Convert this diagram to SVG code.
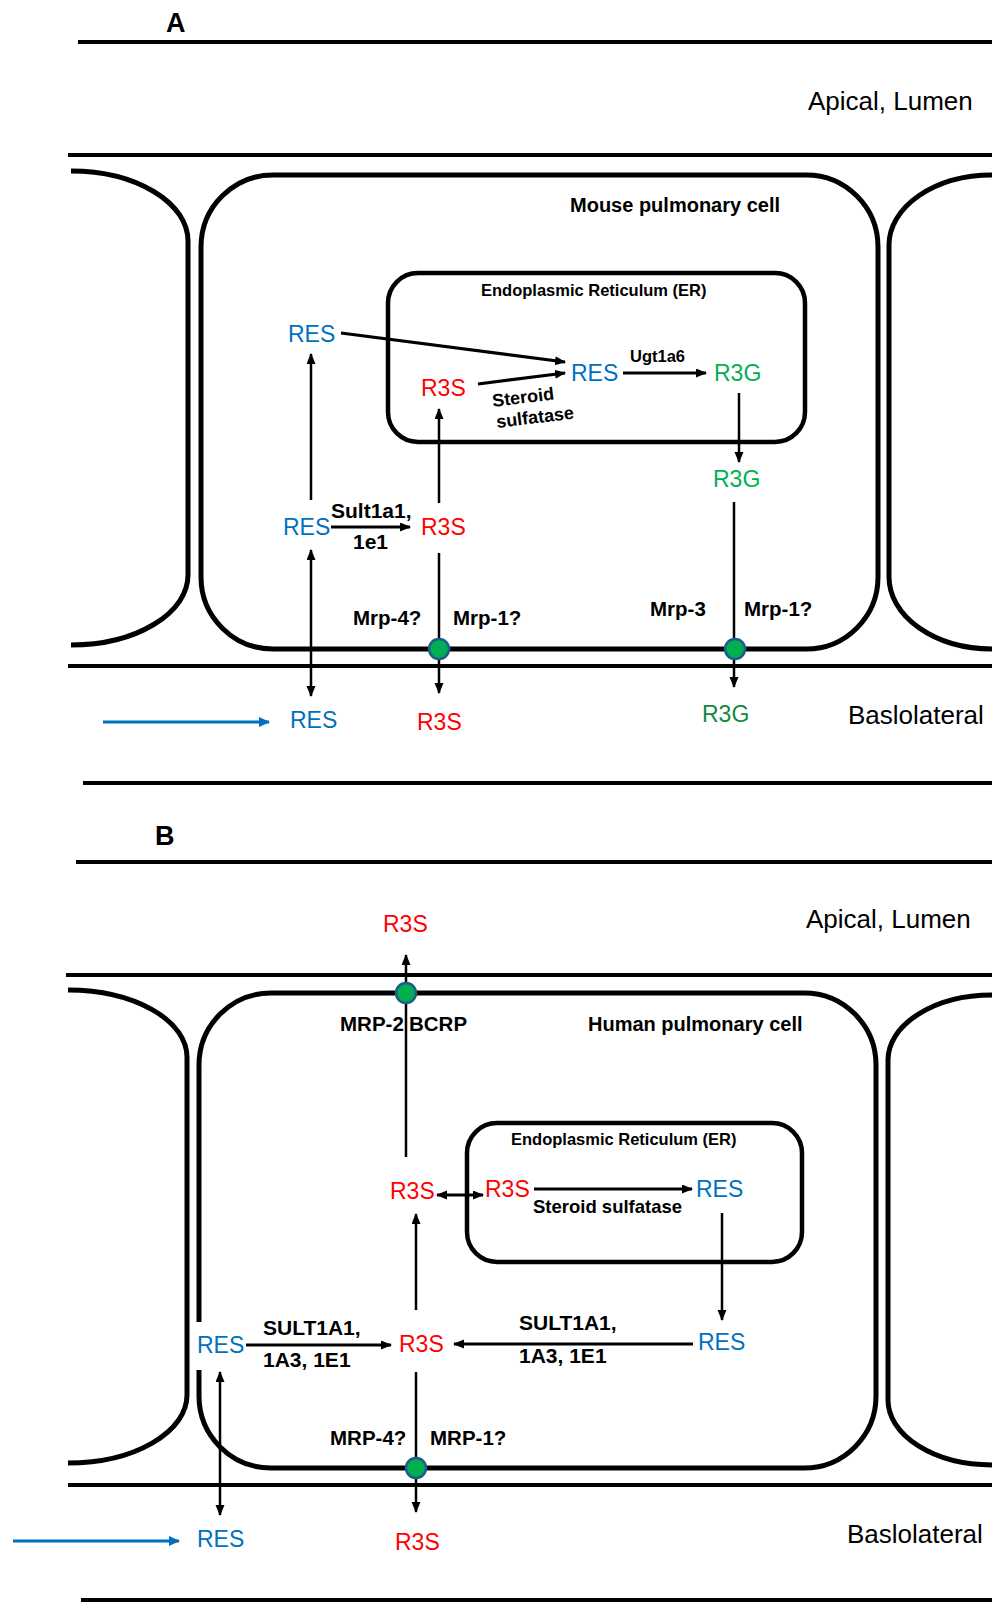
<svg xmlns="http://www.w3.org/2000/svg" width="992" height="1603" viewBox="0 0 992 1603">
<style>
.bg{fill:#fff}
.mem{fill:none;stroke:#000;stroke-width:5}
.ln{stroke:#000;stroke-width:4;fill:none}
.c{stroke:#000;stroke-width:2.5;fill:none}
.ct{stroke:#000;stroke-width:3.2;fill:none}
.cblue{stroke:#0070c0;stroke-width:3;fill:none}
.dot{fill:#00b050;stroke:#1f5b8c;stroke-width:2.5}
text{font-family:"Liberation Sans",Arial,Helvetica,sans-serif}
.mol{font-size:23px}
.blue{fill:#0070c0}
.red{fill:#ff0000}
.green{fill:#00b050}
.dgreen{fill:#0f8a3c}
.lab{font-size:20.5px;font-weight:bold;fill:#000}
.cell{font-size:20px;font-weight:bold;fill:#000}
.er{font-size:16.5px;font-weight:bold;fill:#000}
.reg{font-size:26px;fill:#000}
.pan{font-size:27px;font-weight:bold;fill:#000}
</style>
<defs>
<marker id="ah" markerUnits="userSpaceOnUse" markerWidth="12" markerHeight="10" refX="10" refY="4.5" orient="auto-start-reverse">
<path d="M0,0 L11,4.5 L0,9 z" fill="#000"/>
</marker>
<marker id="ahb" markerUnits="userSpaceOnUse" markerWidth="12" markerHeight="11" refX="10" refY="5" orient="auto">
<path d="M0,0 L11,5 L0,10 z" fill="#0070c0"/>
</marker>
</defs>
<rect class="bg" x="0" y="0" width="992" height="1603"/>

<!-- Panel A -->
<g id="panelA-frame">
<text class="pan" x="166" y="32">A</text>
<line class="ln" x1="78" y1="42" x2="992" y2="42"/>
<line class="ln" x1="68" y1="155" x2="992" y2="155"/>
<line class="ln" x1="68" y1="666" x2="992" y2="666"/>
<line class="ln" x1="83" y1="783" x2="992" y2="783"/>
<text class="reg" x="808" y="110">Apical, Lumen</text>
<text class="reg" x="848" y="724">Baslolateral</text>
</g>
<g id="A-left-cell"><path class="mem" d="M71,171 A117,70 0 0 1 188,241 L188,575 A117,70 0 0 1 71,645"/></g>
<g id="A-right-cell"><path class="mem" d="M992,175 A103,70 0 0 0 889,245 L889,577 A103,72 0 0 0 992,649"/></g>
<g id="A-cell">
<rect class="mem" x="201" y="175" width="677" height="474" rx="72" ry="72"/>
<text class="cell" x="570" y="212">Mouse pulmonary cell</text>
</g>
<g id="A-er">
<rect class="mem" x="388" y="273" width="417" height="169" rx="30" ry="30" style="stroke-width:4.5"/>
<text class="er" x="481" y="296">Endoplasmic Reticulum (ER)</text>
</g>

<g id="A-connectors">
<line class="ct" x1="341" y1="333" x2="565" y2="362" marker-end="url(#ah)"/>
<line class="ct" x1="478" y1="384" x2="565" y2="373" marker-end="url(#ah)"/>
<line class="ct" x1="623" y1="373" x2="706" y2="373" marker-end="url(#ah)"/>
<line class="c" x1="739" y1="393" x2="739" y2="462" marker-end="url(#ah)"/>
<line class="c" x1="311" y1="500" x2="311" y2="354" marker-end="url(#ah)"/>
<line class="ct" x1="331" y1="527" x2="410" y2="527" marker-end="url(#ah)"/>
<line class="c" x1="439" y1="503" x2="439" y2="409" marker-end="url(#ah)"/>
<line class="c" x1="311" y1="550" x2="311" y2="696" marker-start="url(#ah)" marker-end="url(#ah)"/>
<line class="c" x1="439" y1="553" x2="439" y2="693" marker-end="url(#ah)"/>
<line class="c" x1="734" y1="502" x2="734" y2="687" marker-end="url(#ah)"/>
<line class="cblue" x1="103" y1="722" x2="269" y2="722" marker-end="url(#ahb)"/>
</g>
<g id="A-transporters">
<circle class="dot" cx="439" cy="649" r="10"/>
<circle class="dot" cx="735" cy="649" r="10"/>
<text class="lab" x="353" y="625">Mrp-4?</text>
<text class="lab" x="453" y="625">Mrp-1?</text>
<text class="lab" x="650" y="616">Mrp-3</text>
<text class="lab" x="744" y="616">Mrp-1?</text>
</g>
<g id="A-nodes">
<text class="mol blue" x="288" y="342">RES</text>
<text class="mol blue" x="571" y="381">RES</text>
<text class="er" x="630" y="362">Ugt1a6</text>
<text class="mol green" x="714" y="381">R3G</text>
<text class="mol red" x="421" y="396">R3S</text>
<text class="lab" style="font-size:18px" transform="rotate(-7 493 407)" x="493" y="407">Steroid</text>
<text class="lab" style="font-size:18px" transform="rotate(-7 497 428)" x="497" y="428">sulfatase</text>
<text class="mol green" x="713" y="487">R3G</text>
<text class="mol blue" x="283" y="535">RES</text>
<text class="lab" style="font-size:21px" x="331" y="518">Sult1a1,</text>
<text class="lab" style="font-size:21px" x="353" y="549">1e1</text>
<text class="mol red" x="421" y="535">R3S</text>
<text class="mol blue" x="290" y="728">RES</text>
<text class="mol red" x="417" y="730">R3S</text>
<text class="mol dgreen" x="702" y="722">R3G</text>
</g>

<!-- Panel B -->
<g id="panelB-frame">
<text class="pan" x="155" y="845">B</text>
<line class="ln" x1="76" y1="862" x2="992" y2="862"/>
<line class="ln" x1="66" y1="975" x2="992" y2="975"/>
<line class="ln" x1="68" y1="1485" x2="992" y2="1485"/>
<line class="ln" x1="81" y1="1600" x2="992" y2="1600"/>
<text class="reg" x="806" y="928">Apical, Lumen</text>
<text class="reg" x="847" y="1543">Baslolateral</text>
</g>
<g id="B-left-cell"><path class="mem" d="M68,990 A119,67 0 0 1 187,1057 L187,1395 A119,68 0 0 1 68,1463"/></g>
<g id="B-right-cell"><path class="mem" d="M992,995 A104,65 0 0 0 888,1060 L888,1400 A104,65 0 0 0 992,1465"/></g>
<g id="B-cell">
<path class="mem" d="M199,1322 L199,1065 A72,72 0 0 1 271,993 L804,993 A72,72 0 0 1 876,1065 L876,1396 A72,72 0 0 1 804,1468 L271,1468 A72,72 0 0 1 199,1396 L199,1370"/>
<text class="cell" x="588" y="1031">Human pulmonary cell</text>
</g>
<g id="B-er">
<rect class="mem" x="467" y="1123" width="335" height="139" rx="30" ry="30" style="stroke-width:4.5"/>
<text class="er" x="511" y="1145">Endoplasmic Reticulum (ER)</text>
</g>

<g id="B-connectors">
<line class="c" x1="406" y1="1157" x2="406" y2="955" marker-end="url(#ah)"/>
<line class="ct" x1="437" y1="1195" x2="483" y2="1195" marker-start="url(#ah)" marker-end="url(#ah)"/>
<line class="ct" x1="534" y1="1189" x2="692" y2="1189" marker-end="url(#ah)"/>
<line class="c" x1="722" y1="1213" x2="722" y2="1320" marker-end="url(#ah)"/>
<line class="c" x1="416" y1="1310" x2="416" y2="1214" marker-end="url(#ah)"/>
<line class="ct" x1="246" y1="1345" x2="391" y2="1345" marker-end="url(#ah)"/>
<line class="ct" x1="693" y1="1344" x2="454" y2="1344" marker-end="url(#ah)"/>
<line class="c" x1="416" y1="1372" x2="416" y2="1512" marker-end="url(#ah)"/>
<line class="c" x1="220" y1="1372" x2="220" y2="1515" marker-start="url(#ah)" marker-end="url(#ah)"/>
<line class="cblue" x1="13" y1="1541" x2="179" y2="1541" marker-end="url(#ahb)"/>
</g>
<g id="B-transporters">
<circle class="dot" cx="406" cy="993" r="10"/>
<circle class="dot" cx="416" cy="1468" r="10"/>
<text class="lab" x="340" y="1031">MRP-2</text>
<text class="lab" x="409" y="1031">BCRP</text>
<text class="lab" x="330" y="1445">MRP-4?</text>
<text class="lab" x="430" y="1445">MRP-1?</text>
</g>
<g id="B-nodes">
<text class="mol red" x="383" y="932">R3S</text>
<text class="mol red" x="390" y="1199">R3S</text>
<text class="mol red" x="485" y="1197">R3S</text>
<text class="mol blue" x="696" y="1197">RES</text>
<text class="lab" style="font-size:18.5px" x="533" y="1213">Steroid sulfatase</text>
<text class="mol blue" x="197" y="1353">RES</text>
<text class="lab" style="font-size:21px" x="263" y="1335">SULT1A1,</text>
<text class="lab" style="font-size:21px" x="263" y="1367">1A3, 1E1</text>
<text class="mol red" x="399" y="1352">R3S</text>
<text class="lab" style="font-size:21px" x="519" y="1330">SULT1A1,</text>
<text class="lab" style="font-size:21px" x="519" y="1363">1A3, 1E1</text>
<text class="mol blue" x="698" y="1350">RES</text>
<text class="mol blue" x="197" y="1547">RES</text>
<text class="mol red" x="395" y="1550">R3S</text>
</g>
</svg>
